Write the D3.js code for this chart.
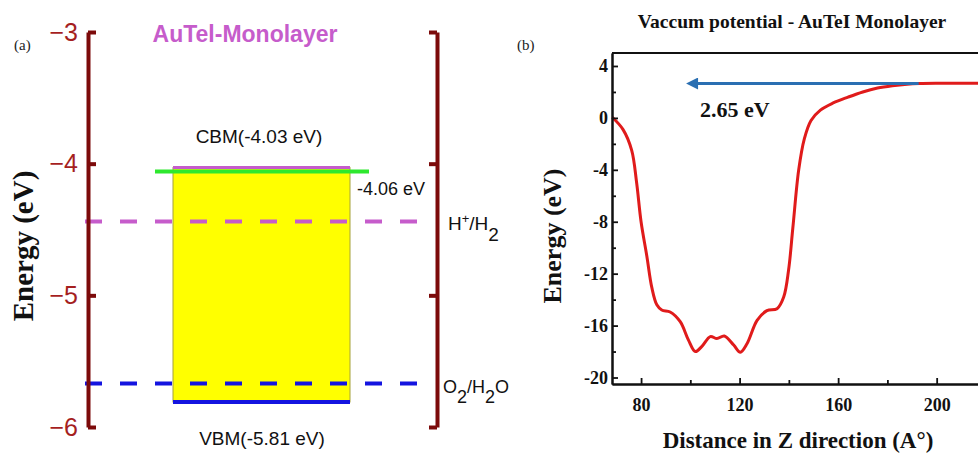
<!DOCTYPE html>
<html>
<head>
<meta charset="utf-8">
<script src="https://cdn.jsdelivr.net/npm/d3@7"></script>
<style>
  body { margin: 0; background: #fff; }
  svg { display: block; }
</style>
</head>
<body>
<figure id="chart" style="margin:0"></figure>
<script>
// ---- panel (a): band alignment ----
const energyTicks = [-3, -4, -5, -6];
const cbm = -4.03;
const vbm = -5.81;
const fermiLevel = -4.06;
const redoxLabels = ["H+/H2", "O2/H2O"];
const redoxValues = [-4.44, -5.67];

// ---- panel (b): planar averaged potential ----
const zDistance = [68.3, 72.7, 76.2, 78.2, 80, 82.3, 84.4, 86.4, 88.4, 91.8, 95.9, 99.2, 102, 104.7,
  108.1, 110.8, 113.8, 117.6, 120.3, 123, 127.1, 131.1, 135.2, 137.9, 139.9, 141.6, 144, 146.3, 149,
  152.8, 158, 164, 170, 176, 182, 188, 193, 200, 210, 218];
const potential = [0.05, -0.9, -2.5, -5, -8.0, -10.6, -13.1, -14.4, -14.8, -14.95, -15.7, -17.1, -18.0, -17.6,
  -16.85, -17.0, -16.8, -17.5, -18.05, -17.4, -15.6, -14.85, -14.7, -13.8, -11.7, -8.5, -4.0, -1.6, -0.2,
  0.6, 1.15, 1.6, 2.0, 2.3, 2.48, 2.6, 2.65, 2.67, 2.67, 2.67];
const vacuumLevel = 2.65;
const arrowFrom = 192.7, arrowTo = 98.6;
const xTicks = [80, 120, 160, 200];
const xMinor = [100, 140, 180];
const yTicks = [4, 0, -4, -8, -12, -16, -20];
const yMinor = [2, -2, -6, -10, -14, -18];

const W = 978, H = 454;
const serif = "'Liberation Serif', 'Times New Roman', serif";
const sans = "'Liberation Sans', Arial, sans-serif";

const svg = d3.select("#chart").append("svg")
  .attr("width", W).attr("height", H);

// ================= panel (a) =================
const axisRed = "#7c0a0a";
const yL = d3.scaleLinear().domain([-3, -6]).range([32, 427]);
const gA = svg.append("g");

// yellow gap box
gA.append("rect")
  .attr("x", 173).attr("width", 177)
  .attr("y", yL(cbm)).attr("height", yL(vbm) - yL(cbm))
  .attr("fill", "#ffff00").attr("stroke", "#a6a23a").attr("stroke-width", 1);

// redox dashed lines
const redoxColors = ["#c65ccb", "#1414e0"];
gA.selectAll(".redox").data(redoxValues).enter().append("line")
  .attr("x1", 85).attr("x2", 425)
  .attr("y1", d => yL(d)).attr("y2", d => yL(d))
  .attr("stroke", (d, i) => redoxColors[i])
  .attr("stroke-width", 4)
  .attr("stroke-dasharray", "17,18");

// band edges
gA.append("line").attr("x1", 173).attr("x2", 350)
  .attr("y1", yL(cbm)).attr("y2", yL(cbm))
  .attr("stroke", "#c65ccb").attr("stroke-width", 3);
gA.append("line").attr("x1", 155).attr("x2", 369)
  .attr("y1", yL(fermiLevel)).attr("y2", yL(fermiLevel))
  .attr("stroke", "#2ee82e").attr("stroke-width", 4);
gA.append("line").attr("x1", 173).attr("x2", 350)
  .attr("y1", yL(vbm)).attr("y2", yL(vbm))
  .attr("stroke", "#1414e0").attr("stroke-width", 4);

// left axis
const leftAxis = gA.append("g")
  .attr("transform", "translate(88,0)")
  .call(d3.axisLeft(yL).tickValues(energyTicks).tickSize(-8).tickSizeOuter(0).tickPadding(10)
    .tickFormat(d3.format("d")));
leftAxis.select(".domain").attr("stroke", axisRed).attr("stroke-width", 4);
leftAxis.selectAll(".tick line").attr("stroke", axisRed).attr("stroke-width", 4);
leftAxis.selectAll(".tick text")
  .attr("fill", "#a51f1f").style("font-family", sans).style("font-size", "25px");

// right axis
const rightAxis = gA.append("g")
  .attr("transform", "translate(437,0)")
  .call(d3.axisRight(yL).tickValues(energyTicks).tickSize(-8).tickSizeOuter(0).tickFormat(""));
rightAxis.select(".domain").attr("stroke", axisRed).attr("stroke-width", 4);
rightAxis.selectAll(".tick line").attr("stroke", axisRed).attr("stroke-width", 4);

// texts
gA.append("text").attr("x", 245).attr("y", 42).attr("text-anchor", "middle")
  .style("font-family", sans).style("font-size", "23px").style("font-weight", "bold")
  .attr("fill", "#c65ccb").text("AuTel-Monolayer");

gA.append("text").attr("x", 259).attr("y", 143).attr("text-anchor", "middle")
  .style("font-family", sans).style("font-size", "19px").attr("fill", "#111")
  .text("CBM(" + cbm.toFixed(2) + " eV)");
gA.append("text").attr("x", 262).attr("y", 445).attr("text-anchor", "middle")
  .style("font-family", sans).style("font-size", "19px").attr("fill", "#111")
  .text("VBM(" + vbm.toFixed(2) + " eV)");
gA.append("text").attr("x", 357).attr("y", 195)
  .style("font-family", sans).style("font-size", "18px").attr("fill", "#111")
  .text(fermiLevel.toFixed(2) + " eV");

// H+/H2
const t1 = gA.append("text").attr("x", 448).attr("y", yL(redoxValues[0]) + 8)
  .style("font-family", sans).style("font-size", "19px").attr("fill", "#111");
t1.append("tspan").text("H");
t1.append("tspan").attr("baseline-shift", "super").style("font-size", "13px").text("+");
t1.append("tspan").text("/H");
t1.append("tspan").attr("baseline-shift", "sub").style("font-size", "19px").text("2");

// O2/H2O
const t2 = gA.append("text").attr("x", 443).attr("y", yL(redoxValues[1]) + 9)
  .style("font-family", sans).style("font-size", "18px").attr("fill", "#111");
t2.append("tspan").text("O");
t2.append("tspan").attr("baseline-shift", "sub").text("2");
t2.append("tspan").text("/H");
t2.append("tspan").attr("baseline-shift", "sub").text("2");
t2.append("tspan").text("O");

gA.append("text").attr("x", 14).attr("y", 50)
  .style("font-family", serif).style("font-size", "15px").attr("fill", "#222").text("(a)");

gA.append("text")
  .attr("transform", "translate(33,246) rotate(-90)")
  .attr("text-anchor", "middle")
  .style("font-family", serif).style("font-size", "29px").style("font-weight", "bold")
  .attr("fill", "#111").text("Energy (eV)");

// ================= panel (b) =================
const x = d3.scaleLinear().domain([68.2, 218]).range([612, 981]);
const y = d3.scaleLinear().domain([-20.5, 5]).range([384, 53]);
const gB = svg.append("g");

// curve
const pts = zDistance.map((z, i) => [z, potential[i]]);
gB.append("path")
  .datum(pts)
  .attr("fill", "none")
  .attr("stroke", "#e01b1b")
  .attr("stroke-width", 3)
  .attr("d", d3.line().x(d => x(d[0])).y(d => y(d[1])).curve(d3.curveCatmullRom.alpha(0.5)));

// arrow
svg.append("defs").append("marker")
  .attr("id", "arrowhead")
  .attr("viewBox", "0 0 10 10").attr("refX", 1).attr("refY", 5)
  .attr("markerWidth", 4.5).attr("markerHeight", 4)
  .attr("orient", "auto-start-reverse")
  .append("path").attr("d", "M0,0 L10,5 L0,10 Z").attr("fill", "#2a6fb2");
gB.append("line")
  .attr("x1", x(arrowFrom)).attr("x2", x(arrowTo) + 10)
  .attr("y1", y(vacuumLevel)).attr("y2", y(vacuumLevel))
  .attr("stroke", "#2a6fb2").attr("stroke-width", 3)
  .attr("marker-end", "url(#arrowhead)");

gB.append("text").attr("x", 700).attr("y", 117)
  .style("font-family", serif).style("font-size", "22px").style("font-weight", "bold")
  .attr("fill", "#111").text(vacuumLevel.toFixed(2) + " eV");

// axes
const styleAxis = g => {
  g.select(".domain").attr("stroke", "#111").attr("stroke-width", 2);
  g.selectAll(".tick line").attr("stroke", "#111").attr("stroke-width", 1.8);
  g.selectAll(".tick text").attr("fill", "#111")
    .style("font-family", serif).style("font-size", "18px").style("font-weight", "bold");
};

gB.append("g").attr("transform", "translate(0,384)")
  .call(d3.axisBottom(x).tickValues(xTicks).tickSize(-6).tickSizeOuter(0).tickPadding(14))
  .call(styleAxis);
gB.append("g").attr("transform", "translate(0,384)")
  .call(d3.axisBottom(x).tickValues(xMinor).tickSize(-4).tickSizeOuter(0).tickFormat(""))
  .call(styleAxis);

gB.append("g").attr("transform", "translate(612,0)")
  .call(d3.axisLeft(y).tickValues(yTicks).tickSize(-6).tickSizeOuter(0).tickPadding(4)
    .tickFormat(d => d3.format("d")(d).replace("−", "-")))
  .call(styleAxis);
gB.append("g").attr("transform", "translate(612,0)")
  .call(d3.axisLeft(y).tickValues(yMinor).tickSize(-4).tickSizeOuter(0).tickFormat(""))
  .call(styleAxis);

// top border
gB.append("line").attr("x1", 612).attr("x2", 981).attr("y1", 53).attr("y2", 53)
  .attr("stroke", "#111").attr("stroke-width", 2);

gB.append("text").attr("x", 792).attr("y", 28).attr("text-anchor", "middle")
  .style("font-family", serif).style("font-size", "19.5px").style("font-weight", "bold")
  .attr("fill", "#111").text("Vaccum potential - AuTeI Monolayer");

gB.append("text").attr("x", 517).attr("y", 50)
  .style("font-family", serif).style("font-size", "15px").attr("fill", "#222").text("(b)");

gB.append("text").attr("x", 798).attr("y", 448).attr("text-anchor", "middle")
  .style("font-family", serif).style("font-size", "23px").style("font-weight", "bold")
  .attr("fill", "#111").text("Distance in Z direction (A°)");

gB.append("text")
  .attr("transform", "translate(561,236) rotate(-90)")
  .attr("text-anchor", "middle")
  .style("font-family", serif).style("font-size", "26px").style("font-weight", "bold")
  .attr("fill", "#111").text("Energy (eV)");
</script>
</body>
</html>
